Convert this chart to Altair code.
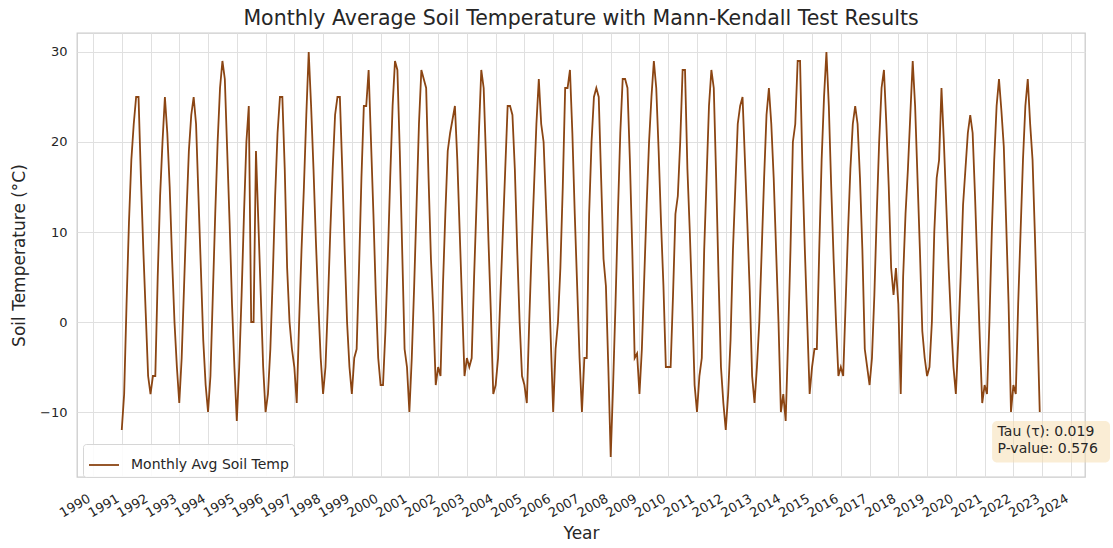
import altair as alt
import pandas as pd

# ---- data (monthly values, Jan..Dec) ----
years = list(range(1991, 2023))
t1991 = [-12, -8, 2, 11, 18, 22, 25, 25, 16, 8, 1, -6]
t1992 = [-8, -6, -6, 5, 14, 20, 25, 21, 15, 7, 0, -5]
t1993 = [-9, -4, 4, 12, 19, 23, 25, 22, 14, 6, -2, -7]
t1994 = [-10, -6, 3, 12, 20, 26, 29, 27, 19, 11, 2, -5]
t1995 = [-11, -5, 3, 12, 20, 24, 0, 0, 19, 11, 3, -5]
t1996 = [-10, -8, -3, 5, 14, 21, 25, 25, 17, 6, 0, -3]
t1997 = [-5, -9, 0, 8, 15, 23, 30, 24, 17, 9, 2, -4]
t1998 = [-8, -5, 2, 10, 17, 23, 25, 25, 17, 8, 0, -5]
t1999 = [-8, -4, -3, 6, 16, 24, 24, 28, 20, 12, 3, -4]
t2000 = [-7, -7, -1, 7, 16, 24, 29, 28, 19, 8, -3, -5]
t2001 = [-10, -4, 4, 13, 22, 28, 27, 26, 16, 7, 1, -7]
t2002 = [-5, -6, 4, 12, 19, 21, 22.5, 24, 18, 10, 2, -6]
t2003 = [-4, -5, -4, 5, 13, 21, 28, 26, 18, 9, 1, -8]
t2004 = [-7, -4, 3, 10, 17, 24, 24, 23, 17, 8, 0, -6]
t2005 = [-7, -9, 0, 8, 15, 22, 27, 22, 20, 13, 6, -2]
t2006 = [-10, -3, 0, 6, 15, 26, 26, 28, 21, 12, 4, -4]
t2007 = [-10, -4, -4, 12, 20, 25, 26, 25, 16, 7, 4, -5]
t2008 = [-15, -7, 2, 12, 21, 27, 27, 26, 18, 8, -4, -3.5]
t2009 = [-8, -3, 5, 13, 20, 25, 29, 26, 19, 11, 4, -5]
t2010 = [-5, -5, 3, 12, 14, 20, 28, 28, 17, 10, 2, -7]
t2011 = [-10, -6, -4, 8, 16, 24, 28, 26, 16, 5, -5, -9]
t2012 = [-12, -8, -2, 8, 15, 22, 24, 25, 18, 11, 3.5, -6]
t2013 = [-9, -5, 0, 8, 16, 23, 26, 22, 16, 8, 0, -10]
t2014 = [-8, -11, -2, 8, 20, 22, 29, 29, 17, 8, 0, -8]
t2015 = [-5, -3, -3, 8, 18, 25, 30, 24, 15, 7, 0, -6]
t2016 = [-5, -6, 2, 10, 17, 22, 24, 22, 16, 8, -3, -5]
t2017 = [-7, -4, 3, 12, 20, 26, 28, 22, 15, 6, 3, 6]
t2018 = [2, -8, 5, 12, 17, 23, 29, 24, 16, 8, -1, -4]
t2019 = [-6, -5, 0, 10, 16, 18, 26, 20, 13, 6, 0, -5]
t2020 = [-8, -2, 5, 13, 17, 21, 23, 21, 14, 6, -2, -9]
t2021 = [-7, -8, 0, 10, 18, 24, 27, 23.5, 19.5, 11, 2, -10]
t2022 = [-7, -8, 2, 10, 18, 24, 27, 22, 18, 9.5, 0, -10]

series_by_year = [t1991, t1992, t1993, t1994, t1995, t1996, t1997, t1998,
                  t1999, t2000, t2001, t2002, t2003, t2004, t2005, t2006,
                  t2007, t2008, t2009, t2010, t2011, t2012, t2013, t2014,
                  t2015, t2016, t2017, t2018, t2019, t2020, t2021, t2022]

tick_years = list(range(1990, 2025))
y_ticks = [-10, 0, 10, 20, 30]
series_name = "Monthly Avg Soil Temp"
tau = 0.019
p_value = 0.576

# ---- build table ----
rows = []
for yr, vals in zip(years, series_by_year):
    for m, v in enumerate(vals):
        rows.append({"t": yr + m / 12.0, "temp": v, "series": series_name})
df = pd.DataFrame(rows)

# ---- scales / axes shared by all layers ----
xs = alt.Scale(domain=[1989.444, 2024.49], nice=False, zero=False)
ys = alt.Scale(domain=[-17.22, 32.11], nice=False, zero=False)
xa = alt.Axis(values=tick_years, format="d", labelAngle=330, labelAlign="right",
              labelBaseline="top", labelPadding=15, labelOffset=-7,
              title="Year", titlePadding=6, labelFlush=False, labelOverlap=False)
ya = alt.Axis(values=y_ticks, format="d", labelPadding=10, titlePadding=11,
              title="Soil Temperature (°C)")

line = alt.Chart(df).mark_line(strokeWidth=1.8).encode(
    x=alt.X("t:Q", scale=xs, axis=xa),
    y=alt.Y("temp:Q", scale=ys, axis=ya),
    color=alt.Color("series:N", scale=alt.Scale(range=["#8B4513"]),
                    legend=alt.Legend(orient="none", legendX=6, legendY=411,
                                      title=None, symbolType="stroke",
                                      symbolSize=900, symbolStrokeWidth=1.8,
                                      labelOffset=11, padding=5,
                                      fillColor="rgba(255,255,255,0.85)",
                                      strokeColor="#d6d6d6", cornerRadius=3,
                                      labelFontSize=14, labelColor="#262626",
                                      labelFont="DejaVu Sans")),
)

# ---- annotation box with Mann-Kendall results ----
box_df = pd.DataFrame([{"x0": 2021.26, "x1": 2025.36, "y0": -11.0, "y1": -15.6}])
box = alt.Chart(box_df).mark_rect(cornerRadius=5, fill="#F5DEB3", opacity=0.55).encode(
    x=alt.X("x0:Q", scale=xs, axis=xa),
    x2="x1:Q",
    y=alt.Y("y0:Q", scale=ys, axis=ya),
    y2="y1:Q",
)

txt_df = pd.DataFrame([
    {"tx": 2021.45, "ty": -12.2, "label": f"Tau (τ): {tau:.3f}"},
    {"tx": 2021.45, "ty": -14.15, "label": f"P-value: {p_value:.3f}"},
])
txt = alt.Chart(txt_df).mark_text(align="left", baseline="middle", fontSize=14,
                                  font="DejaVu Sans", color="#262626").encode(
    x=alt.X("tx:Q", scale=xs, axis=xa),
    y=alt.Y("ty:Q", scale=ys, axis=ya),
    text="label:N",
)

chart = alt.layer(line, box, txt).properties(
    width=1008, height=444,
    title="Monthly Average Soil Temperature with Mann-Kendall Test Results",
    autosize=alt.AutoSizeParams(type="none"),
    padding={"left": 77, "top": 33, "right": 28, "bottom": 71},
).configure(font="DejaVu Sans", background="white").configure_view(
    stroke="#cccccc", strokeWidth=1.3
).configure_axis(
    gridColor="#e0e0e0", gridWidth=1, domain=False, ticks=False,
    labelColor="#262626", titleColor="#262626", labelFontSize=13,
    titleFontSize=17, titleFontWeight="normal", labelFont="DejaVu Sans",
    titleFont="DejaVu Sans",
).configure_title(
    fontSize=20.5, font="DejaVu Sans", fontWeight="normal", color="#262626",
    anchor="middle", offset=4,
)

chart.save("out.html", embed_options={"renderer": "svg", "actions": False})
